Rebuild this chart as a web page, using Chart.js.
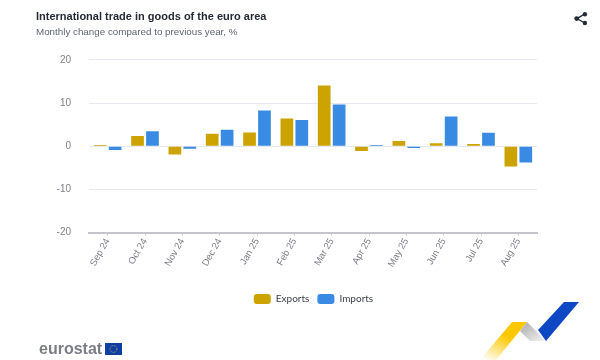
<!DOCTYPE html>
<html>
<head>
<meta charset="utf-8">
<script src="https://cdn.jsdelivr.net/npm/chart.js@4"></script>
<style>
  html, body { margin: 0; padding: 0; background: #fff; }
  #wrap { position: relative; width: 600px; height: 360px; overflow: hidden; }
  #wrap canvas { position: absolute; left: 0; top: 0; }
  #share { position: absolute; left: 572px; top: 10px; }
  #brand { position: absolute; left: 39px; top: 339px; font: bold 16px "Liberation Sans", Arial, sans-serif; color: #7b7d84; line-height: 20px; }
  #flag { position: absolute; left: 105px; top: 343px; }
  #ribbon { position: absolute; left: 470px; top: 295px; }
</style>
</head>
<body>
<div id="wrap">
  <canvas id="chart" width="600" height="360"></canvas>
  <svg id="share" width="18" height="18" viewBox="0 0 18 18">
    <path d="M12.7 4 L5 8.6 L12.7 13" fill="none" stroke="#262b38" stroke-width="1.4"/>
    <circle cx="12.9" cy="4.2" r="2.2" fill="#262b38"/>
    <circle cx="4.7" cy="8.6" r="2.4" fill="#262b38"/>
    <circle cx="12.9" cy="13" r="2.2" fill="#262b38"/>
  </svg>
  <div id="brand">eurostat</div>
  <svg id="flag" width="17" height="12" viewBox="0 0 17 12">
    <rect width="17" height="12" fill="#0f3fa6"/>
    <circle cx="8.5" cy="6" r="3.4" fill="none" stroke="#c9b23a" stroke-width="0.9" stroke-dasharray="0.9 0.9"/>
  </svg>
  <svg id="ribbon" width="115" height="65" viewBox="0 0 115 65">
    <defs>
      <linearGradient id="gold" x1="0.75" y1="0" x2="0.1" y2="1">
        <stop offset="0.35" stop-color="#fdc800"/>
        <stop offset="1" stop-color="#fdc800" stop-opacity="0"/>
      </linearGradient>
      <linearGradient id="grey" x1="0" y1="0" x2="1" y2="1">
        <stop offset="0" stop-color="#a9a9ab"/>
        <stop offset="1" stop-color="#f4f4f4"/>
      </linearGradient>
    </defs>
    <polygon points="42,27 57,27 26,65 10,65" fill="url(#gold)"/>
    <polygon points="57,27 76,46 60,46 50,36" fill="url(#grey)"/>
    <polygon points="94,7 109,7 76,46 68,35" fill="#0e47c4"/>
  </svg>
</div>
<script>
const categories = ['Sep 24', 'Oct 24', 'Nov 24', 'Dec 24', 'Jan 25', 'Feb 25', 'Mar 25', 'Apr 25', 'May 25', 'Jun 25', 'Jul 25', 'Aug 25'];
const exportsValues = [0.3, 2.4, -1.9, 2.9, 3.2, 6.4, 14.1, -1.1, 1.2, 0.7, 0.5, -4.7];
const importsValues = [-0.9, 3.5, -0.6, 3.8, 8.3, 6.1, 9.7, 0.3, -0.4, 6.9, 3.1, -3.8];

const FONT = '"Liberation Sans", Arial, sans-serif';
const EXPORTS_COLOR = '#cca300';
const IMPORTS_COLOR = '#388ae2';
const LEGEND_SHIFT = 27;

// the legend sits under the plot, not under the whole page width
const shiftLegend = {
  id: 'shiftLegend',
  afterLayout(chart) {
    chart.legend.left += LEGEND_SHIFT;
    chart.legend.right += LEGEND_SHIFT;
  },
};

new Chart(document.getElementById('chart'), {
  type: 'bar',
  data: {
    labels: categories,
    datasets: [
      { label: 'Exports', data: exportsValues, backgroundColor: EXPORTS_COLOR },
      { label: 'Imports', data: importsValues, backgroundColor: IMPORTS_COLOR },
    ],
  },
  plugins: [shiftLegend],
  options: {
    responsive: false,
    animation: false,
    barPercentage: 0.85,
    categoryPercentage: 0.8,
    layout: { padding: { left: 36, right: 63, top: 10, bottom: 46 } },
    scales: {
      x: {
        grid: { offset: false, drawOnChartArea: false, drawTicks: true, tickLength: 3, tickColor: '#c4c4cc' },
        border: { color: '#c4c4cc', width: 2 },
        afterFit: (scale) => { scale.height = 53.5; },
        ticks: { color: '#7c7c86', font: { family: FONT, size: 9.5 }, maxRotation: 60, minRotation: 60, padding: 1 },
      },
      y: {
        min: -20,
        max: 20,
        grid: { color: '#e6e9f0', drawTicks: false },
        border: { display: false },
        afterFit: (scale) => { scale.width = 53; },
        ticks: { stepSize: 10, color: '#808088', font: { family: FONT, size: 10 }, padding: 18 },
      },
    },
    plugins: {
      title: {
        display: true,
        text: 'International trade in goods of the euro area',
        align: 'start',
        color: '#262b38',
        font: { family: FONT, size: 11, weight: 'bold' },
        padding: { top: 0, bottom: 1 },
      },
      subtitle: {
        display: true,
        text: 'Monthly change compared to previous year, %',
        align: 'start',
        color: '#5f6470',
        font: { family: FONT, size: 9.8, weight: 'normal' },
        padding: { top: 2, bottom: 22 },
      },
      legend: {
        position: 'bottom',
        labels: { color: '#3c3f4a', font: { family: 'Lato', size: 10 }, boxWidth: 17, boxHeight: 10, padding: 8, useBorderRadius: true, borderRadius: 3 },
      },
      tooltip: { enabled: false },
    },
  },
});
</script>
</body>
</html>
